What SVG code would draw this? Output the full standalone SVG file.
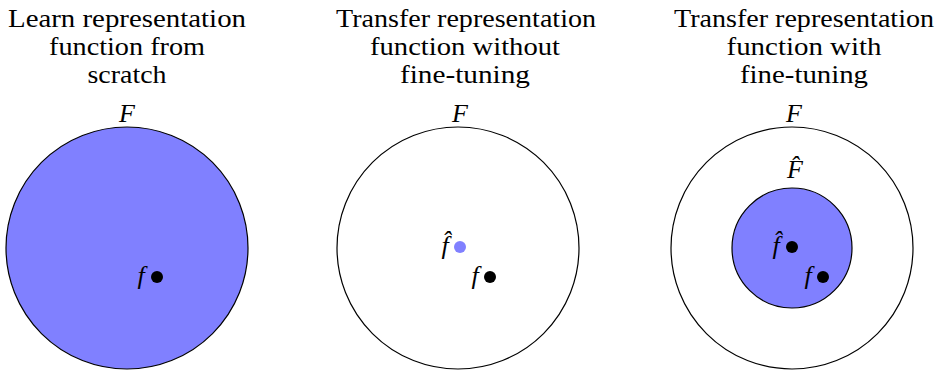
<svg xmlns="http://www.w3.org/2000/svg" width="939" height="372" viewBox="0 0 939 372">
<style>
.title{font-family:"Liberation Serif","DejaVu Serif",serif;font-size:26px;fill:#000;text-anchor:middle}
.m{font-family:"Liberation Serif","DejaVu Serif",serif;font-style:italic;font-size:26px;fill:#000;text-anchor:middle}
.big{stroke:#000;stroke-width:1.2}
.fill{fill:#8080ff}
.white{fill:#fff}
.dot{fill:#000}
</style>
<rect width="939" height="372" fill="#fff"/>
<g id="panel1">
<text class="title" x="127" y="27" textLength="238" lengthAdjust="spacingAndGlyphs">Learn representation</text>
<text class="title" x="127" y="55" textLength="156" lengthAdjust="spacingAndGlyphs">function from</text>
<text class="title" x="127" y="83" textLength="79" lengthAdjust="spacingAndGlyphs">scratch</text>
<circle class="big fill" cx="127" cy="248" r="121"/>
<text class="m" x="127" y="122">F</text>
<text class="m" x="141" y="284">f</text>
<circle class="dot" cx="157" cy="277" r="6"/>
</g>
<g id="panel2">
<text class="title" x="466" y="27" textLength="260" lengthAdjust="spacingAndGlyphs">Transfer representation</text>
<text class="title" x="465" y="55" textLength="190" lengthAdjust="spacingAndGlyphs">function without</text>
<text class="title" x="465" y="83" textLength="130" lengthAdjust="spacingAndGlyphs">fine-tuning</text>
<circle class="big white" cx="458" cy="248" r="121"/>
<text class="m" x="460" y="122">F</text>
<text class="m" x="445" y="254">f̂</text>
<circle class="fill" cx="460" cy="247" r="6"/>
<text class="m" x="475" y="284">f</text>
<circle class="dot" cx="490" cy="277" r="6"/>
</g>
<g id="panel3">
<text class="title" x="804" y="27" textLength="260" lengthAdjust="spacingAndGlyphs">Transfer representation</text>
<text class="title" x="804" y="55" textLength="155" lengthAdjust="spacingAndGlyphs">function with</text>
<text class="title" x="804" y="83" textLength="128" lengthAdjust="spacingAndGlyphs">fine-tuning</text>
<circle class="big white" cx="792" cy="248" r="121"/>
<text class="m" x="794" y="122">F</text>
<circle class="big fill" cx="792" cy="248" r="60"/>
<text class="m" x="795" y="178">F̂</text>
<text class="m" x="776" y="254">f̂</text>
<circle class="dot" cx="792" cy="247" r="6"/>
<text class="m" x="808" y="284">f</text>
<circle class="dot" cx="823" cy="277" r="6"/>
</g>
</svg>
